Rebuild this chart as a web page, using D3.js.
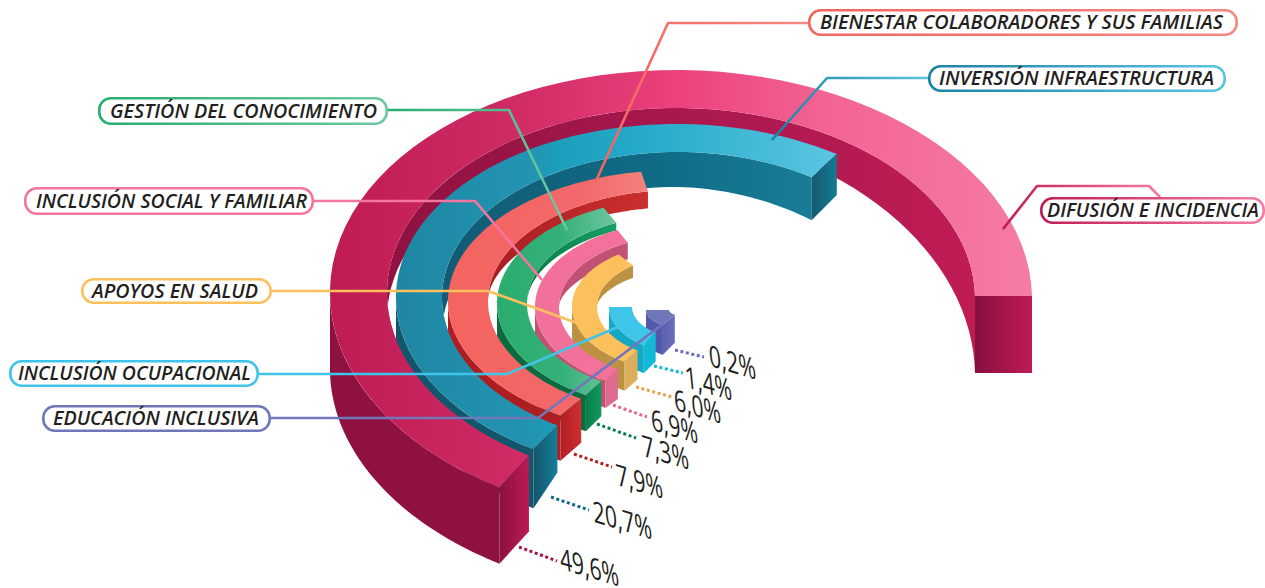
<!DOCTYPE html>
<html>
<head>
<meta charset="utf-8">
<script src="https://cdn.jsdelivr.net/npm/d3@7"></script>
<style>
  html, body { margin: 0; padding: 0; background: #fff; overflow: hidden; }
  svg { display: block; }
</style>
</head>
<body>
<svg id="chart"></svg>
<script>
// data, outermost ring first
let categories = ['DIFUSIÓN E INCIDENCIA', 'INVERSIÓN INFRAESTRUCTURA', 'BIENESTAR COLABORADORES Y SUS FAMILIAS',
  'GESTIÓN DEL CONOCIMIENTO', 'INCLUSIÓN SOCIAL Y FAMILIAR', 'APOYOS EN SALUD', 'INCLUSIÓN OCUPACIONAL', 'EDUCACIÓN INCLUSIVA']
let values = [49.6, 20.7, 7.9, 7.3, 6.9, 6.0, 1.4, 0.2]

// the drawing is not to scale: this is how far each value sweeps round the ellipse
let sweep = d3.scaleLinear()
  .domain([0.2, 1.4, 6.0, 6.9, 7.3, 7.9, 20.7, 49.6])
  .range([58, 58, 114, 123, 124, 139, 182, 238])

// ring shapes by rank
let rank = d3.range(values.length)
let rxOuter = d3.scaleOrdinal(rank, [351, 285, 233, 184, 146, 109, 72, 35])
let ryOuter = d3.scaleOrdinal(rank, [226, 176, 133, 106.5, 86, 64, 45, 17.5])
let rxInner = d3.scaleOrdinal(rank, [294, 239, 193, 154, 122, 84, 49, 12])
let ryInner = d3.scaleOrdinal(rank, [188, 148, 113, 90, 72, 50.6, 30, 5.5])
let centerY = d3.scaleOrdinal(rank, [296, 300, 303, 305, 308, 307.5, 307, 310])
let depthFront = [76, 59, 45, 36, 27, 29, 28, 30]
let depthFaceIn = [76, 47, 44, 35, 30, 29, 29, 28]
let depthBack = [26, 35, 17, 8, 17, 13, 0, 0]
let depthRight = [77, 62, 17, 8, 17, 13, 0, 0]
let wallFades = [false, false, true, true, true, true, true, true]

let centerX = 681
let shear = -0.015
let startAngle = 238

// horizontal shading, [offset, colour]
let topShade = [
  [[330, '#bf1c54'], [500, '#cd2962'], [680, '#ec427d'], [830, '#f26494'], [1031, '#f57ca3']],
  [[396, '#1f86a3'], [534, '#2295b3'], [560, '#1b9fbd'], [650, '#27abca'], [837, '#5ac6e2']],
  [[448, '#f4645f'], [580, '#f3686a'], [645, '#f4817b']],
  [[497, '#2aad6f'], [560, '#34b078'], [617, '#6fc6a0']],
  [[535, '#f2709a'], [625, '#f2729a']],
  [[572, '#fcc05c'], [638, '#fcc05c']],
  [[609, '#3fc4ea'], [657, '#3fc4ea']],
  [[646, '#7077b9'], [676, '#7077b9']],
]
let innerShade = [
  [[387, '#8f1240'], [700, '#ab1850'], [975, '#c01c54']],
  [[442, '#125b74'], [650, '#106a84'], [809, '#197c96']],
  [[488, '#a81e22'], [648, '#cb2f2e']],
  [[527, '#0a7a48'], [617, '#17a065']],
  [[559, '#c05173'], [625, '#c25274']],
  [[597, '#bc9242'], [631, '#bc9242']],
  [[609, '#15a7c4'], [632, '#15a7c4']],
  [[646, '#5259ad'], [669, '#5259ad']],
]
let outerWall = ['#8e1141', '#12566b', '#ac1e22', '#0a6a40', '#c25274', '#bc9242', '#15a7c4', '#5259ad']
let faceShade = [
  ['#8c1140', '#bb1a55'], ['#14566a', '#147f9b'], ['#b21f24', '#cf2f2f'], ['#0a7d4a', '#109a5c'],
  ['#de6a90', '#de6a90'], ['#dcae5c', '#dcae5c'], ['#12b9d7', '#12b9d7'], ['#5a60b0', '#6a6fb8'],
]
let endFaceShade = [['#871040', '#bf1b55'], ['#165a70', '#147a94']]

// callouts: pill box, text span, leader polyline
let pillBox = [[1040, 197, 1265, 224], [928, 65, 1226, 92], [808, 9, 1238, 36], [98, 97, 388, 125],
  [24, 187, 314, 215], [81, 278, 272, 304], [9, 360, 259, 387], [42, 405, 271, 432]]
let pillText = [[1047, 212], [939, 275], [820, 403], [110, 267], [36, 271], [92, 166], [18, 233], [53, 206]]
let leaders = [
  [[1160, 197], [1149, 186], [1037, 186], [1003, 229]],
  [[928, 78], [827, 78], [772, 140]],
  [[808, 23], [668, 23], [595, 183]],
  [[388, 110], [509, 110], [567, 230]],
  [[314, 201], [475, 201], [542, 280]],
  [[272, 291], [488, 291], [577, 323]],
  [[259, 374], [507, 374], [618, 327]],
  [[271, 418], [538, 418], [663, 324]],
]
let pillStops = [['#c21b57', '#f57ca3'], ['#1a82a3', '#5ac6e2'], ['#f4645f', '#f48a84'], ['#27ae6e', '#6fc8a2'],
  ['#f4759d', '#f4759d'], ['#fcc05c', '#fcc05c'], ['#3fc4ea', '#3fc4ea'], ['#7077b9', '#7077b9']]
let dotted = [
  [[519, 547], [557, 561]], [[551, 497], [589, 510]], [[574, 454], [612, 467]], [[597, 424], [636, 438]],
  [[613, 405], [647, 417]], [[636, 387], [672, 397]], [[654, 366], [683, 373]], [[675, 350], [704, 357]],
]
let dottedColor = ['#a8154d', '#0f6b85', '#b5201f', '#0a7d4a', '#e8668f', '#e5a54f', '#14b9d7', '#6a6fb8']
let valueAt = [[561, 569], [594, 522], [617, 485], [643, 456], [652, 430], [675, 410], [686, 387], [710, 366]]

let svg = d3.select('#chart').attr('width', 1265).attr('height', 588)
let defs = svg.append('defs')

function gradient(id, stops, x1, x2) {
  let g = defs.append('linearGradient')
    .attr('id', id)
    .attr('gradientUnits', 'userSpaceOnUse')
    .attr('x1', x1).attr('x2', x2).attr('y1', 0).attr('y2', 0)
  g.selectAll('stop').data(stops).enter().append('stop')
    .attr('offset', d => (d[0] - x1) / (x2 - x1))
    .attr('stop-color', d => d[1])
  return `url(#${id})`
}
let shade = (id, stops) => gradient(id, stops, stops[0][0], stops[stops.length - 1][0])
let rad = d => d * Math.PI / 180

// elliptical ring coordinates
let px = (rx, t) => centerX + rx * Math.cos(rad(t)) + shear * rx * Math.sin(rad(t))
let py = (i, ry, t) => centerY(i) - ry * Math.sin(rad(t))
let outer = (i, t) => [px(rxOuter(i), t), py(i, ryOuter(i), t)]
let inner = (i, t) => [px(rxInner(i), t), py(i, ryInner(i), t)]
let steps = (a, b) => d3.range(0, 73).map(k => a + (b - a) * k / 72)
let endAngle = i => startAngle - sweep(values[i])

// the back wall is deepest at the right; on the small rings it also fades out towards the left
function backDepth(i, t) {
  if (t <= 90) return depthBack[i] + (depthRight[i] - depthBack[i]) * Math.pow(1 - Math.sin(rad(t)), 0.7)
  if (!wallFades[i]) return depthBack[i]
  return depthBack[i] * (1 - Math.pow((t - 90) / 90, 3))
}

let line = d3.line().x(d => d[0]).y(d => d[1])
let closed = pts => line(pts) + 'Z'
let down = (p, h) => [p[0], p[1] + h]

let walls = svg.append('g').attr('class', 'walls')
let tops = svg.append('g').attr('class', 'tops')
let faces = svg.append('g').attr('class', 'faces')

// inner walls, outside to inside
rank.forEach(i => {
  let a = endAngle(i)
  if (a >= 180) return
  let arc = steps(a, wallFades[i] ? 180 : 200)
  walls.append('path')
    .attr('d', closed(arc.map(t => inner(i, t)).concat(arc.slice().reverse().map(t => down(inner(i, t), backDepth(i, t))))))
    .attr('fill', shade('inner' + i, innerShade[i]))
})

// outer walls, inside to outside
rank.slice().reverse().forEach(i => {
  let arc = steps(180, startAngle)
  walls.append('path')
    .attr('d', closed(arc.map(t => outer(i, t)).concat(arc.slice().reverse().map(t => down(outer(i, t), depthFront[i])))))
    .attr('fill', outerWall[i])
})

// top surfaces
rank.forEach(i => {
  let arc = steps(endAngle(i), startAngle)
  tops.append('path')
    .attr('d', closed(arc.map(t => outer(i, t)).concat(arc.slice().reverse().map(t => inner(i, t)))))
    .attr('fill', shade('top' + i, topShade[i]))
})

// cut faces at the start of each ring
rank.slice().reverse().forEach(i => {
  let a = outer(i, startAngle), b = inner(i, startAngle)
  faces.append('path')
    .attr('d', closed([a, b, down(b, depthFaceIn[i]), down(a, depthFront[i])]))
    .attr('fill', gradient('face' + i, [[a[0], faceShade[i][0]], [b[0], faceShade[i][1]]], a[0], b[0]))
})

// cut faces at the free end, only the ones turned to the viewer
rank.filter(i => endAngle(i) < 90).forEach(i => {
  let t = endAngle(i)
  let a = inner(i, t), b = outer(i, t), h = backDepth(i, t)
  faces.append('path')
    .attr('d', closed([a, b, down(b, h - 2 * i), down(a, h)]))
    .attr('fill', gradient('end' + i, [[a[0], endFaceShade[i][0]], [b[0], endFaceShade[i][1]]], a[0], b[0]))
})

// leaders and pills
let callouts = svg.append('g').attr('class', 'callouts')
rank.forEach(i => {
  let xs = d3.extent(leaders[i], d => d[0])
  callouts.append('path')
    .attr('d', line(leaders[i]))
    .attr('fill', 'none')
    .attr('stroke', gradient('lead' + i, [[xs[0], pillStops[i][0]], [xs[1], pillStops[i][1]]], xs[0], xs[1]))
    .attr('stroke-width', 2.6)
    .attr('stroke-linejoin', 'round')
  let b = pillBox[i]
  callouts.append('rect')
    .attr('x', b[0] + 1.3).attr('y', b[1] + 1.3)
    .attr('width', b[2] - b[0] - 2.6).attr('height', b[3] - b[1] - 2.6)
    .attr('rx', 11.5)
    .attr('fill', '#fff')
    .attr('stroke', gradient('pill' + i, [[b[0], pillStops[i][0]], [b[2], pillStops[i][1]]], b[0], b[2]))
    .attr('stroke-width', 2.6)
  callouts.append('text')
    .attr('x', pillText[i][0])
    .attr('y', (b[1] + b[3]) / 2 + 6.9)
    .attr('textLength', pillText[i][1])
    .attr('lengthAdjust', 'spacingAndGlyphs')
    .attr('font-family', '"Open Sans", sans-serif')
    .attr('font-style', 'italic')
    .attr('font-weight', 600)
    .attr('font-size', 20)
    .attr('fill', '#231f20')
    .text(categories[i])
})

// dotted ticks and slanted values
let labels = svg.append('g').attr('class', 'values')
rank.forEach(i => {
  labels.append('path')
    .attr('d', line(dotted[i]))
    .attr('stroke', dottedColor[i])
    .attr('stroke-width', 3)
    .attr('stroke-dasharray', '3 2.6')
    .attr('fill', 'none')
  labels.append('text')
    .attr('transform', `translate(${valueAt[i][0]},${valueAt[i][1]}) matrix(0.7,0.21,0.1,1,0,0)`)
    .attr('font-family', '"Open Sans", sans-serif')
    .attr('font-size', 30)
    .attr('fill', '#231f20')
    .text(values[i].toFixed(1).replace('.', ',') + '%')
})
</script>
</body>
</html>
